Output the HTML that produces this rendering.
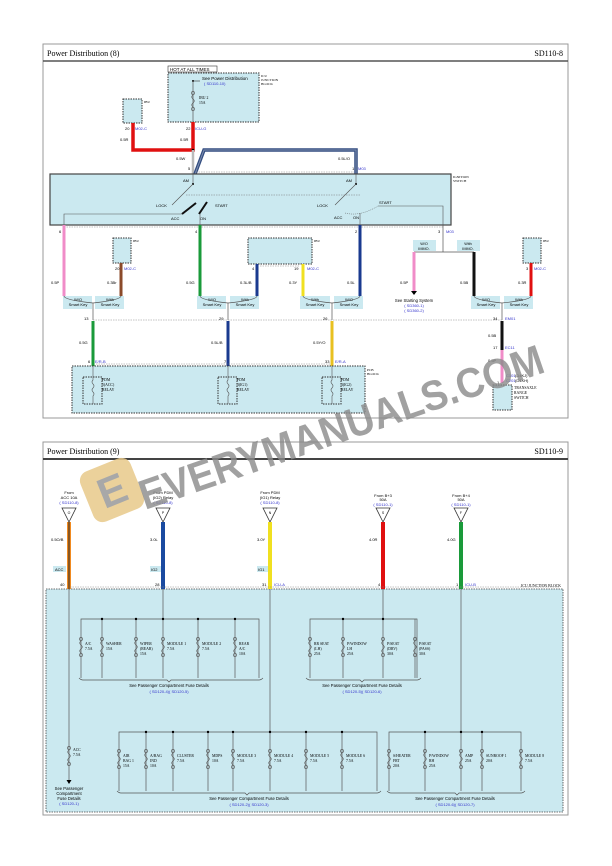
<!DOCTYPE html>
<html><head><meta charset="utf-8"><style>
html,body{margin:0;padding:0;background:#fff;}
svg{display:block;font-family:"Liberation Sans",sans-serif;}
.t{font-family:"Liberation Serif",serif;}
</style></head><body>
<svg width="612" height="866" viewBox="0 0 612 866" xmlns="http://www.w3.org/2000/svg">
<defs>
<g id="fuse"><circle cx="0" cy="0" r="1.6" fill="none" stroke="#555" stroke-width="0.6"/><path d="M0,2 q-2.5,2 0,4 q2.5,2 0,4 q-2.5,2 0,4" fill="none" stroke="#555" stroke-width="0.7"/><circle cx="0" cy="16" r="1.6" fill="none" stroke="#555" stroke-width="0.6"/></g>
</defs>
<!-- Top panel -->
<rect x="43" y="44" width="525" height="374" fill="#fff" stroke="#999" stroke-width="1"/>
<line x1="43" y1="61" x2="568" y2="61" stroke="#555" stroke-width="1.5"/>
<text x="47" y="56" font-size="8" class="t">Power Distribution (8)</text>
<text x="563" y="56" font-size="8" class="t" text-anchor="end">SD110-8</text>

<rect x="168" y="66" width="49" height="6" fill="#fff" stroke="#333" stroke-width="0.6"/>
<text x="170" y="71" font-size="4.5">HOT AT ALL TIMES</text>
<rect x="168" y="73" width="91" height="49" fill="#cbe9f0" stroke="#333" stroke-width="1" stroke-dasharray="1.5,1"/>
<text x="261" y="77" font-size="3.5" class="t">ICU</text><text x="261" y="81" font-size="3.5" class="t">JUNCTION</text><text x="261" y="85" font-size="3.5" class="t">BLOCK</text>
<line x1="193" y1="81" x2="200" y2="81" stroke="#333" stroke-width="0.6"/><circle cx="193" cy="81" r="1" fill="#000"/>
<text x="202" y="80" font-size="4.5">See Power Distribution</text><text x="204" y="85" font-size="4" fill="#33c">( SD110-10)</text>
<line x1="193" y1="81" x2="193" y2="122" stroke="#555" stroke-width="0.7"/>
<use href="#fuse" x="193" y="93"/>
<text x="199" y="99" font-size="3.8" class="t">IBU 2</text><text x="199" y="104" font-size="3.8" class="t">15A</text>
<rect x="123" y="99" width="19" height="24" fill="#cbe9f0" stroke="#333" stroke-dasharray="1.5,1"/>
<text x="144" y="103" font-size="3.5" class="t">IBU</text>
<text x="125" y="130" font-size="4">20</text><text x="135" y="130" font-size="4" fill="#33c">M02-C</text>
<text x="186" y="130" font-size="4">22</text><text x="195" y="130" font-size="4" fill="#33c">ICU-G</text>
<text x="120" y="141" font-size="4">0.5R</text><text x="180" y="141" font-size="4">0.5R</text>
<path d="M133,123 V150 H193 V122" fill="none" stroke="#e01010" stroke-width="3.5"/>
<circle cx="193" cy="150" r="1.3" fill="#000"/>
<line x1="193" y1="150" x2="193" y2="174" stroke="#bbb" stroke-width="2.5"/>
<path d="M195,174 L204,150 H356 V174" fill="none" stroke="#334d80" stroke-width="3.5"/>
<path d="M195,174 L204,150 H356 V174" fill="none" stroke="#7f8fb0" stroke-width="1"/>
<text x="176" y="160" font-size="4">0.5W</text><text x="338" y="160" font-size="4">0.5L/O</text>
<text x="188" y="170" font-size="4">5</text><text x="352" y="170" font-size="4">1</text><text x="358" y="170" font-size="4" fill="#33c">M03</text>
<line x1="196" y1="172" x2="354" y2="172" stroke="#888" stroke-width="0.5" stroke-dasharray="1.5,1"/>
<rect x="50" y="174" width="401" height="51" fill="#cbe9f0" stroke="#444" stroke-width="1.2"/>
<text x="453" y="178" font-size="3.5" class="t">IGNITION</text><text x="453" y="182" font-size="3.5" class="t">SWITCH</text>
<text x="183" y="182" font-size="4">AM</text><text x="346" y="182" font-size="4">AM</text>
<line x1="193" y1="174" x2="193" y2="184" stroke="#555" stroke-width="0.6"/><circle cx="193" cy="184" r="1" fill="#000"/>
<line x1="356" y1="174" x2="356" y2="184" stroke="#555" stroke-width="0.6"/><circle cx="356" cy="184" r="1" fill="#000"/>
<line x1="193" y1="184" x2="172" y2="205" stroke="#555" stroke-width="0.6"/>
<line x1="356" y1="184" x2="335" y2="205" stroke="#555" stroke-width="0.6"/>
<line x1="186" y1="195" x2="360" y2="195" stroke="#777" stroke-width="0.5" stroke-dasharray="1.5,1"/>
<text x="156" y="207" font-size="4">LOCK</text><text x="317" y="207" font-size="4">LOCK</text>
<path d="M182,214 L196,203 M199,214 L207,202" stroke="#111" stroke-width="2"/>
<text x="215" y="207" font-size="4">START</text><text x="379" y="204" font-size="4">START</text>
<text x="171" y="220" font-size="4">ACC</text><text x="200" y="220" font-size="4">ON</text>
<text x="334" y="219" font-size="4">ACC</text><text x="353" y="219" font-size="4">ON</text>
<path d="M64,225 V214 H182" fill="none" stroke="#555" stroke-width="0.6"/>
<line x1="200" y1="214" x2="200" y2="225" stroke="#555" stroke-width="0.6"/>
<path d="M345,213 Q360,217 378,206" fill="none" stroke="#555" stroke-width="0.5" stroke-dasharray="1,1"/>
<line x1="360" y1="213" x2="360" y2="225" stroke="#555" stroke-width="0.6"/>
<path d="M378,206 H443 V225" fill="none" stroke="#555" stroke-width="0.6"/>
<line x1="64" y1="227" x2="444" y2="227" stroke="#888" stroke-width="0.5" stroke-dasharray="1.5,1"/>
<text x="59" y="233" font-size="4">6</text><text x="195" y="233" font-size="4">4</text><text x="355" y="233" font-size="4">2</text><text x="438" y="233" font-size="4">3</text><text x="446" y="233" font-size="4" fill="#33c">M03</text>
<!-- wires down -->
<line x1="64" y1="225" x2="64" y2="296" stroke="#f08cc8" stroke-width="3"/>
<line x1="200" y1="225" x2="200" y2="296" stroke="#1a9a3a" stroke-width="3"/>
<line x1="360" y1="225" x2="360" y2="296" stroke="#1a3a8f" stroke-width="3"/>
<path d="M443,225 V252 M414,252 H474" stroke="#555" stroke-width="0.7" fill="none"/>
<rect x="413" y="240" width="23" height="11" fill="#cbe9f0"/><text x="424" y="245" font-size="3.8" text-anchor="middle">W/O</text><text x="424" y="250" font-size="3.8" text-anchor="middle">IMMO.</text>
<rect x="457" y="240" width="23" height="11" fill="#cbe9f0"/><text x="468" y="245" font-size="3.8" text-anchor="middle">With</text><text x="468" y="250" font-size="3.8" text-anchor="middle">IMMO.</text>
<line x1="414" y1="252" x2="414" y2="292" stroke="#f08cc8" stroke-width="3"/>
<path d="M411,291 h6 l-3,4z" fill="#000"/>
<text x="414" y="302" font-size="4.2" text-anchor="middle">See Starting System</text>
<text x="414" y="307" font-size="4" text-anchor="middle" fill="#33c">( SD360-1)</text><text x="414" y="312" font-size="4" text-anchor="middle" fill="#33c">( SD360-2)</text>
<line x1="474" y1="252" x2="474" y2="296" stroke="#111" stroke-width="3"/>
<!-- IBU boxes -->
<rect x="113" y="238" width="18" height="25" fill="#cbe9f0" stroke="#333" stroke-dasharray="1.5,1"/><text x="133" y="242" font-size="3.5" class="t">IBU</text>
<line x1="121" y1="263" x2="121" y2="296" stroke="#8b4a2a" stroke-width="3"/>
<text x="115" y="270" font-size="4">20</text><text x="124" y="270" font-size="4" fill="#33c">M02-C</text>
<rect x="248" y="238" width="64" height="26" fill="#cbe9f0" stroke="#333" stroke-dasharray="1.5,1"/><text x="314" y="242" font-size="3.5" class="t">IBU</text>
<line x1="257" y1="264" x2="257" y2="296" stroke="#1a3a8f" stroke-width="3"/>
<line x1="303" y1="264" x2="303" y2="296" stroke="#f0e020" stroke-width="3"/>
<line x1="260" y1="266" x2="300" y2="266" stroke="#888" stroke-width="0.5" stroke-dasharray="1.5,1"/>
<text x="252" y="270" font-size="4">4</text><text x="294" y="270" font-size="4">19</text><text x="307" y="270" font-size="4" fill="#33c">M02-C</text>
<rect x="523" y="238" width="18" height="25" fill="#cbe9f0" stroke="#333" stroke-dasharray="1.5,1"/><text x="543" y="242" font-size="3.5" class="t">IBU</text>
<line x1="531" y1="263" x2="531" y2="296" stroke="#e01010" stroke-width="3"/>
<text x="526" y="270" font-size="4">3</text><text x="534" y="270" font-size="4" fill="#33c">M02-C</text>
<g font-size="4">
<text x="51" y="284">0.5P</text><text x="107" y="284">0.3Br</text><text x="186" y="284">0.5G</text><text x="240" y="284">0.3L/B</text><text x="289" y="284">0.3Y</text><text x="347" y="284">0.5L</text><text x="400" y="284">0.5P</text><text x="460" y="284">0.5B</text><text x="518" y="284">0.3R</text>
</g>
<!-- smart key boxes -->
<g font-size="4" text-anchor="middle">
<rect x="63" y="296" width="29" height="13" fill="#cbe9f0"/><text x="78" y="301">W/O</text><text x="78" y="306">Smart Key</text>
<rect x="95" y="296" width="29" height="13" fill="#cbe9f0"/><text x="110" y="301">With</text><text x="110" y="306">Smart Key</text>
<rect x="197" y="296" width="29" height="13" fill="#cbe9f0"/><text x="212" y="301">W/O</text><text x="212" y="306">Smart Key</text>
<rect x="230" y="296" width="29" height="13" fill="#cbe9f0"/><text x="245" y="301">With</text><text x="245" y="306">Smart Key</text>
<rect x="300" y="296" width="30" height="13" fill="#cbe9f0"/><text x="315" y="301">With</text><text x="315" y="306">Smart Key</text>
<rect x="334" y="296" width="29" height="13" fill="#cbe9f0"/><text x="349" y="301">W/O</text><text x="349" y="306">Smart Key</text>
<rect x="471" y="296" width="29" height="13" fill="#cbe9f0"/><text x="486" y="301">W/O</text><text x="486" y="306">Smart Key</text>
<rect x="504" y="296" width="29" height="13" fill="#cbe9f0"/><text x="519" y="301">With</text><text x="519" y="306">Smart Key</text>
</g>
<g stroke="#555" stroke-width="0.7" fill="none">
<path d="M64,296 Q64,300 93,303 Q121,300 121,296 M93,303 V320"/>
<path d="M200,296 Q200,300 228,303 Q257,300 257,296 M228,303 V320"/>
<path d="M303,296 Q303,300 332,303 Q360,300 360,296 M332,303 V320"/>
<path d="M474,296 Q474,300 502,303 Q531,300 531,296 M502,303 V320"/>
</g>
<line x1="93" y1="320" x2="502" y2="320" stroke="#888" stroke-width="0.5" stroke-dasharray="1.5,1"/>
<text x="84" y="320" font-size="4">13</text><text x="219" y="320" font-size="4">29</text><text x="323" y="320" font-size="4">26</text><text x="493" y="320" font-size="4">34</text><text x="505" y="320" font-size="4" fill="#33c">EM01</text>
<line x1="93" y1="321" x2="93" y2="366" stroke="#1a9a3a" stroke-width="3"/>
<line x1="228" y1="321" x2="228" y2="366" stroke="#1a3a8f" stroke-width="3"/>
<line x1="332" y1="321" x2="332" y2="366" stroke="#e8c020" stroke-width="3"/>
<line x1="502" y1="321" x2="502" y2="350" stroke="#111" stroke-width="3"/>
<line x1="502" y1="350" x2="502" y2="383" stroke="#f08cc8" stroke-width="3"/>
<g font-size="4"><text x="79" y="344">0.5G</text><text x="211" y="344">0.5L/B</text><text x="313" y="344">0.5Y/O</text><text x="488" y="337">0.5B</text><text x="493" y="349">17</text><text x="505" y="349" fill="#33c">EC11</text><text x="488" y="362">0.5P</text><text x="497" y="384">1</text>
<text x="88" y="363">6</text><text x="95" y="363" fill="#33c">E/R-B</text><text x="224" y="363">7</text><text x="325" y="363">33</text><text x="335" y="363" fill="#33c">E/R-A</text>
<text x="506" y="377" fill="#33c">C101</text><text x="515" y="377">(D4KJ)</text><text x="506" y="382" fill="#33c">C201</text><text x="515" y="382">(D4KH)</text></g>
<rect x="72" y="366" width="293" height="47" fill="#cbe9f0" stroke="#333" stroke-dasharray="1.5,1"/>
<line x1="96" y1="364" x2="330" y2="364" stroke="#888" stroke-width="0.5" stroke-dasharray="1.5,1"/>
<text x="367" y="371" font-size="3.5" class="t">PCB</text><text x="367" y="375" font-size="3.5" class="t">BLOCK</text>
<g stroke="#333" fill="none" stroke-dasharray="1.5,1"><rect x="83" y="377" width="19" height="27"/><rect x="218" y="377" width="19" height="27"/><rect x="322" y="377" width="19" height="27"/></g>
<g stroke="#555" stroke-width="0.6" fill="none"><path d="M93,366 V380 q-2,2 0,4 q2,2 0,4 q-2,2 0,4 q2,2 0,4 V404"/><path d="M228,366 V380 q-2,2 0,4 q2,2 0,4 q-2,2 0,4 q2,2 0,4 V404"/><path d="M332,366 V380 q-2,2 0,4 q2,2 0,4 q-2,2 0,4 q2,2 0,4 V404"/></g>
<g font-size="3.8" class="t"><text x="102" y="381">PDM</text><text x="102" y="386">5(ACC)</text><text x="102" y="391">RELAY</text>
<text x="237" y="381">PDM</text><text x="237" y="386">3(IG1)</text><text x="237" y="391">RELAY</text>
<text x="341" y="381">PDM</text><text x="341" y="386">3(IG2)</text><text x="341" y="391">RELAY</text>
<text x="514" y="389">TRANSAXLE</text><text x="514" y="394">RANGE</text><text x="514" y="399">SWITCH</text></g>
<rect x="493" y="385" width="19" height="25" fill="#cbe9f0" stroke="#333" stroke-dasharray="1.5,1"/>

<!-- Bottom panel -->
<rect x="43" y="442" width="525" height="373" fill="#fff" stroke="#999" stroke-width="1"/>
<line x1="43" y1="459" x2="568" y2="459" stroke="#444" stroke-width="2"/>
<text x="47" y="454" font-size="8" class="t">Power Distribution (9)</text>
<text x="563" y="454" font-size="8" class="t" text-anchor="end">SD110-9</text>
<rect x="46" y="589" width="517" height="223" fill="#cbe9f0" stroke="#444" stroke-width="0.8" stroke-dasharray="1.5,1"/>
<text x="561" y="587" font-size="3.8" class="t" text-anchor="end">ICU JUNCTION BLOCK</text>
<g font-size="4" text-anchor="middle">
<text x="69" y="494">From</text><text x="69" y="499">ACC 10A</text><text x="69" y="504" fill="#33c">( SD110-8)</text>
<text x="163" y="494">From PDM</text><text x="163" y="499">(IG2) Relay</text><text x="163" y="504" fill="#33c">( SD110-8)</text>
<text x="270" y="494">From PDM</text><text x="270" y="499">(IG1) Relay</text><text x="270" y="504" fill="#33c">( SD110-8)</text>
<text x="383" y="497">From B+3</text><text x="383" y="501">50A</text><text x="383" y="506" fill="#33c">( SD110-1)</text>
<text x="461" y="497">From B+4</text><text x="461" y="501">50A</text><text x="461" y="506" fill="#33c">( SD110-1)</text>
</g>
<g fill="#fff" stroke="#333" stroke-width="0.8">
<path d="M62,508 h14 l-7,14z"/><path d="M156,508 h14 l-7,14z"/><path d="M263,508 h14 l-7,14z"/><path d="M376,508 h14 l-7,14z"/><path d="M454,508 h14 l-7,14z"/>
</g>
<g font-size="3.5" text-anchor="middle"><text x="69" y="514">O</text><text x="163" y="514">P</text><text x="270" y="514">N</text><text x="383" y="514">S</text><text x="461" y="514">F</text></g>
<line x1="69" y1="522" x2="69" y2="589" stroke="#f08a20" stroke-width="4"/><line x1="69" y1="522" x2="69" y2="589" stroke="#222" stroke-width="1"/>
<line x1="163" y1="522" x2="163" y2="589" stroke="#1a4aa0" stroke-width="4"/>
<line x1="270" y1="522" x2="270" y2="589" stroke="#f0e020" stroke-width="4"/>
<line x1="383" y1="522" x2="383" y2="589" stroke="#e01010" stroke-width="4"/>
<line x1="461" y1="522" x2="461" y2="589" stroke="#1a9a3a" stroke-width="4"/>
<g font-size="4"><text x="51" y="541">0.5O/B</text><text x="150" y="541">3.0L</text><text x="257" y="541">3.0Y</text><text x="369" y="541">4.0R</text><text x="447" y="541">4.0G</text></g>
<g font-size="4"><rect x="53" y="566" width="13" height="6" fill="#cbe9f0"/><text x="55" y="571">ACC</text>
<rect x="150" y="566" width="11" height="6" fill="#cbe9f0"/><text x="151" y="571">IG2</text>
<rect x="257" y="566" width="11" height="6" fill="#cbe9f0"/><text x="258" y="571">IG1</text>
<text x="60" y="586">40</text><text x="155" y="586">28</text><text x="262" y="586">31</text><text x="274" y="586" fill="#33c">ICU-A</text><text x="378" y="586">4</text><text x="456" y="586">1</text><text x="465" y="586" fill="#33c">ICU-B</text></g>
<line x1="70" y1="587" x2="560" y2="587" stroke="#888" stroke-width="0.5" stroke-dasharray="1.5,1"/>
<!-- trunk lines -->
<g stroke="#555" stroke-width="0.7" fill="none">
<line x1="69" y1="589" x2="69" y2="780"/>
<line x1="163" y1="589" x2="163" y2="619"/>
<line x1="270" y1="589" x2="270" y2="732"/>
<line x1="383" y1="589" x2="383" y2="619"/>
<line x1="461" y1="589" x2="461" y2="732"/>
<path d="M81,678 V619 H259 V678"/>
<path d="M310,678 V619 H417 V678"/>
<path d="M119,791 V732 H377 V791"/>
<path d="M389,791 V732 H521 V791"/>
<path d="M102,619V678 M136,619V678 M163,619V678 M198,619V678 M235,619V678"/>
<path d="M343,619V678 M383,619V678 M415,619V678"/>
<path d="M146,732V791 M173,732V791 M208,732V791 M233,732V791 M270,732V791 M306,732V791 M342,732V791"/>
<path d="M425,732V791 M461,732V791 M482,732V791"/>
<path d="M79,678 q2,2 4,2 H167 l2,2 l2,-2 H259 q2,0 4,-2"/>
<path d="M306,678 q2,2 4,2 H360 l2,2 l2,-2 H417 q2,0 4,-2"/>
<path d="M117,791 q2,2 4,2 H245 l2,2 l2,-2 H377 q2,0 4,-2"/>
<path d="M387,791 q2,2 4,2 H455 l2,2 l2,-2 H521 q2,0 4,-2"/>
</g>
<g fill="#000"><circle cx="102" cy="619" r="1.2"/><circle cx="136" cy="619" r="1.2"/><circle cx="163" cy="619" r="1.2"/><circle cx="198" cy="619" r="1.2"/><circle cx="235" cy="619" r="1.2"/>
<circle cx="343" cy="619" r="1.2"/><circle cx="383" cy="619" r="1.2"/>
<circle cx="146" cy="732" r="1.2"/><circle cx="173" cy="732" r="1.2"/><circle cx="208" cy="732" r="1.2"/><circle cx="233" cy="732" r="1.2"/><circle cx="270" cy="732" r="1.2"/><circle cx="306" cy="732" r="1.2"/><circle cx="342" cy="732" r="1.2"/>
<circle cx="425" cy="732" r="1.2"/><circle cx="461" cy="732" r="1.2"/><circle cx="482" cy="732" r="1.2"/>
<path d="M66.5,780 h5 l-2.5,4z"/></g>
<!-- fuses -->
<g fill="#cbe9f0">
<use href="#fuse" x="81" y="639"/><use href="#fuse" x="102" y="639"/><use href="#fuse" x="136" y="639"/><use href="#fuse" x="163" y="639"/><use href="#fuse" x="198" y="639"/><use href="#fuse" x="235" y="639"/>
<use href="#fuse" x="310" y="639"/><use href="#fuse" x="343" y="639"/><use href="#fuse" x="383" y="639"/><use href="#fuse" x="415" y="639"/>
<use href="#fuse" x="69" y="748"/>
<use href="#fuse" x="119" y="751"/><use href="#fuse" x="146" y="751"/><use href="#fuse" x="173" y="751"/><use href="#fuse" x="208" y="751"/><use href="#fuse" x="233" y="751"/><use href="#fuse" x="270" y="751"/><use href="#fuse" x="306" y="751"/><use href="#fuse" x="342" y="751"/>
<use href="#fuse" x="389" y="751"/><use href="#fuse" x="425" y="751"/><use href="#fuse" x="461" y="751"/><use href="#fuse" x="482" y="751"/><use href="#fuse" x="521" y="751"/>
</g>
<g font-size="3.8" class="t">
<text x="85" y="645">A/C</text><text x="85" y="650">7.5A</text>
<text x="106" y="645">WASHER</text><text x="106" y="650">15A</text>
<text x="140" y="645">WIPER</text><text x="140" y="650">(REAR)</text><text x="140" y="655">15A</text>
<text x="167" y="645">MODULE 1</text><text x="167" y="650">7.5A</text>
<text x="202" y="645">MODULE 2</text><text x="202" y="650">7.5A</text>
<text x="239" y="645">REAR</text><text x="239" y="650">A/C</text><text x="239" y="655">10A</text>
<text x="314" y="645">RR SEAT</text><text x="314" y="650">(LH)</text><text x="314" y="655">25A</text>
<text x="347" y="645">P/WINDOW</text><text x="347" y="650">LH</text><text x="347" y="655">25A</text>
<text x="387" y="645">P/SEAT</text><text x="387" y="650">(DRV)</text><text x="387" y="655">30A</text>
<text x="419" y="645">P/SEAT</text><text x="419" y="650">(PASS)</text><text x="419" y="655">30A</text>
<text x="73" y="751">ACC</text><text x="73" y="756">7.5A</text>
<text x="123" y="757">AIR</text><text x="123" y="762">BAG 1</text><text x="123" y="767">15A</text>
<text x="150" y="757">A/BAG</text><text x="150" y="762">IND</text><text x="150" y="767">10A</text>
<text x="177" y="757">CLUSTER</text><text x="177" y="762">7.5A</text>
<text x="212" y="757">MDPS</text><text x="212" y="762">10A</text>
<text x="237" y="757">MODULE 3</text><text x="237" y="762">7.5A</text>
<text x="274" y="757">MODULE 4</text><text x="274" y="762">7.5A</text>
<text x="310" y="757">MODULE 5</text><text x="310" y="762">7.5A</text>
<text x="346" y="757">MODULE 6</text><text x="346" y="762">7.5A</text>
<text x="393" y="757">S/HEATER</text><text x="393" y="762">FRT</text><text x="393" y="767">20A</text>
<text x="429" y="757">P/WINDOW</text><text x="429" y="762">RH</text><text x="429" y="767">25A</text>
<text x="465" y="757">AMP</text><text x="465" y="762">25A</text>
<text x="486" y="757">SUNROOF 1</text><text x="486" y="762">20A</text>
<text x="525" y="757">MODULE 8</text><text x="525" y="762">7.5A</text>
</g>
<g font-size="4.2" text-anchor="middle">
<text x="169" y="687">See Passenger Compartment Fuse Details</text><text x="169" y="693" fill="#33c" font-size="4">( SD120-4)( SD120-5)</text>
<text x="362" y="687">See Passenger Compartment Fuse Details</text><text x="362" y="693" fill="#33c" font-size="4">( SD120-5)( SD120-6)</text>
<text x="249" y="800">See Passenger Compartment Fuse Details</text><text x="249" y="806" fill="#33c" font-size="4">( SD120-2)( SD120-3)</text>
<text x="455" y="800">See Passenger Compartment Fuse Details</text><text x="455" y="806" fill="#33c" font-size="4">( SD120-6)( SD120-7)</text>
<text x="69" y="790">See Passenger</text><text x="69" y="795">Compartment</text><text x="69" y="800">Fuse Details</text><text x="69" y="805" fill="#33c" font-size="4">( SD120-1)</text>
</g>
<!-- watermark -->
<g transform="translate(112,490) rotate(-22)" opacity="0.85">
<rect x="-27" y="-27" width="54" height="54" rx="10" fill="#e8c98a"/>
<text x="0" y="15" font-size="42" font-weight="bold" fill="#9a9a9a" text-anchor="middle">E</text>
</g>
<text x="0" y="0" transform="translate(145,510) rotate(-19)" font-size="42" font-weight="bold" fill="#8a8a8a" opacity="0.8" textLength="425" lengthAdjust="spacingAndGlyphs">EVERYMANUALS.COM</text>
</svg>
</body></html>
